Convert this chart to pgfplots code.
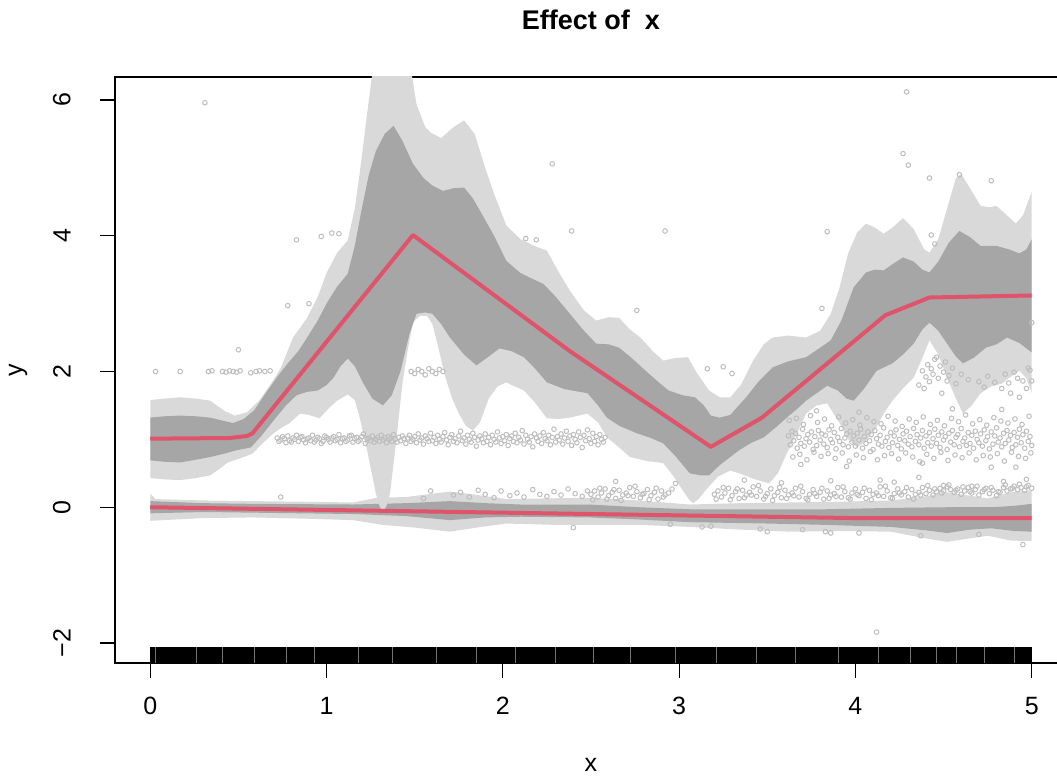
\documentclass[border=0pt]{standalone}
\usepackage{fontspec}
\setmainfont{Liberation Sans}
\usepackage{pgfplots}
\pgfplotsset{compat=1.18}
\definecolor{bandlight}{HTML}{D9D9D9}
\definecolor{banddark}{HTML}{A6A6A6}
\definecolor{fitred}{HTML}{DF536B}
\definecolor{ptgray}{HTML}{BEBEBE}
\newcommand{\lab}{\fontsize{12.5}{15}\selectfont}
\begin{document}
\begin{tikzpicture}
\begin{axis}[
  scale only axis, width=476pt, height=293pt,
  xmin=-0.2, xmax=5.2, ymin=-2.295, ymax=6.339,
  axis line style={line width=0.6pt},
  tick style={line width=0.6pt, black},
  tick align=outside, major tick length=7.5pt,
  xtick={0,1,2,3,4,5}, xticklabels={0,1,2,3,4,5},
  ytick={-2,0,2,4,6}, yticklabels={−2,0,2,4,6},
  xtick pos=bottom, ytick pos=left,
  tick label style={font=\lab},
  xticklabel style={anchor=north, inner sep=0pt, yshift=-9.5pt},
  yticklabel style={rotate=90, anchor=south, inner sep=0pt, yshift=14.5pt},
  title={Effect of~~x},
  title style={font=\bfseries\fontsize{13.5}{16}\selectfont, at={(0.5,1)}, anchor=center, yshift=22.5pt},
  xlabel={x}, xlabel style={font=\lab, at={(0.5,0)}, anchor=center, yshift=-51pt},
  ylabel={y}, ylabel style={font=\lab, at={(0,0.5)}, anchor=center, yshift=48.5pt},
]
\coordinate (SW) at (rel axis cs:0,0);
\coordinate (NW) at (rel axis cs:0,1);

% rug
\addplot[fill=black, draw=none] coordinates {(0,-2.295)(0,-2.06)(5,-2.06)(5,-2.295)};
\addplot[white!45!black, line width=0.25pt, unbounded coords=jump] coordinates {
(0.03,-2.295)(0.03,-2.06)(0.03,nan)(0.26,-2.295)(0.26,-2.06)(0.26,nan)
(0.41,-2.295)(0.41,-2.06)(0.41,nan)(0.59,-2.295)(0.59,-2.06)(0.59,nan)
(0.77,-2.295)(0.77,-2.06)(0.77,nan)(0.93,-2.295)(0.93,-2.06)(0.93,nan)
(1.18,-2.295)(1.18,-2.06)(1.18,nan)(1.37,-2.295)(1.37,-2.06)(1.37,nan)
(1.62,-2.295)(1.62,-2.06)(1.62,nan)(1.85,-2.295)(1.85,-2.06)(1.85,nan)
(2.07,-2.295)(2.07,-2.06)(2.07,nan)(2.30,-2.295)(2.30,-2.06)(2.30,nan)
(2.51,-2.295)(2.51,-2.06)(2.51,nan)(2.72,-2.295)(2.72,-2.06)(2.72,nan)
(2.98,-2.295)(2.98,-2.06)(2.98,nan)(3.21,-2.295)(3.21,-2.06)(3.21,nan)
(3.44,-2.295)(3.44,-2.06)(3.44,nan)(3.66,-2.295)(3.66,-2.06)(3.66,nan)
(3.90,-2.295)(3.90,-2.06)(3.90,nan)(4.13,-2.295)(4.13,-2.06)(4.13,nan)
(4.31,-2.295)(4.31,-2.06)(4.31,nan)(4.46,-2.295)(4.46,-2.06)(4.46,nan)
(4.57,-2.295)(4.57,-2.06)(4.57,nan)(4.73,-2.295)(4.73,-2.06)(4.73,nan)
(4.90,-2.295)(4.90,-2.06)(4.90,nan)};

% data points
\addplot[only marks, mark=o, mark size=1.15pt, ptgray, mark options={line width=0.5pt}] coordinates {
(0.72,1.02)(0.73,0.97)(0.74,0.99)(0.75,1.04)(0.76,1.01)(0.77,0.95)(0.78,1.05)(0.79,0.98)(0.80,0.96)(0.81,1.02)
(0.82,1.00)(0.83,1.06)(0.84,0.97)(0.85,1.03)(0.86,1.04)(0.87,0.99)(0.88,0.95)(0.89,1.01)(0.90,1.02)(0.91,0.98)
(0.92,1.06)(0.93,0.96)(0.94,0.99)(0.95,1.03)(0.96,1.01)(0.97,0.94)(0.98,0.97)(0.99,1.05)(1.00,1.03)(1.01,1.00)
(1.02,0.96)(1.03,1.02)(1.04,1.04)(1.05,0.98)(1.06,1.00)(1.07,1.07)(1.08,0.95)(1.09,1.01)(1.10,1.02)(1.11,0.97)
(1.12,0.99)(1.13,1.05)(1.14,1.06)(1.15,0.96)(1.16,1.01)(1.17,1.03)(1.18,0.97)(1.19,0.99)(1.20,1.04)(1.21,1.08)
(1.22,0.94)(1.23,1.01)(1.24,1.02)(1.25,0.98)(1.26,1.05)(1.27,0.96)(1.28,1.00)(1.29,1.03)(1.30,0.97)(1.31,1.06)
(1.32,0.99)(1.33,1.02)(1.34,0.95)(1.35,1.04)(1.36,1.01)(1.37,0.97)(1.38,1.07)(1.39,1.00)(1.40,0.96)(1.41,1.03)
(1.42,0.98)(1.43,1.05)(1.44,1.01)(1.45,0.94)(1.46,1.02)(1.47,1.06)(1.48,0.97)(1.49,1.00)(1.50,1.04)(1.51,0.95)
(1.52,1.08)(1.53,0.99)(1.54,1.02)(1.55,0.93)(1.56,1.05)(1.57,1.01)(1.58,0.97)(1.59,1.09)(1.60,0.98)(1.61,1.03)
(1.62,0.94)(1.63,1.06)(1.64,1.00)(1.65,0.96)(1.66,1.04)(1.67,1.10)(1.68,0.99)(1.69,0.92)(1.70,1.03)(1.71,1.07)
(1.72,0.97)(1.73,1.01)(1.74,0.95)(1.75,1.05)(1.76,1.12)(1.77,0.98)(1.78,1.02)(1.79,0.93)(1.80,1.06)(1.81,1.00)
(1.82,0.96)(1.83,1.09)(1.84,1.03)(1.85,0.90)(1.86,0.99)(1.87,1.05)(1.88,1.01)(1.89,0.95)(1.90,1.08)(1.91,0.97)
(1.92,1.03)(1.93,0.92)(1.94,1.06)(1.95,1.00)(1.96,0.96)(1.97,1.11)(1.98,1.02)(1.99,0.94)(2.00,1.04)(2.01,0.98)
(2.02,1.07)(2.03,0.91)(2.04,1.01)(2.05,1.05)(2.06,0.97)(2.07,1.09)(2.08,0.95)(2.09,1.03)(2.10,0.99)(2.11,1.13)
(2.12,0.93)(2.13,1.06)(2.14,1.00)(2.15,0.96)(2.16,1.04)(2.17,0.89)(2.18,1.08)(2.19,1.02)(2.20,0.97)(2.21,1.05)
(2.22,0.94)(2.23,1.10)(2.24,1.01)(2.25,0.98)(2.26,1.06)(2.27,0.92)(2.28,1.03)(2.29,1.15)(2.30,0.96)(2.31,1.04)
(2.32,0.99)(2.33,1.08)(2.34,0.93)(2.35,1.02)(2.36,1.12)(2.37,0.97)(2.38,1.05)(2.39,0.91)(2.40,1.07)(2.41,1.00)
(2.42,0.95)(2.43,1.11)(2.44,1.03)(2.45,0.88)(2.46,1.06)(2.47,0.98)(2.48,1.14)(2.49,1.01)(2.50,0.94)(2.51,1.09)
(2.52,0.97)(2.53,1.04)(2.54,0.92)(2.55,1.07)(2.56,1.00)(2.57,0.96)(2.58,1.03)
(3.62,1.05)(3.63,0.92)(3.64,1.12)(3.65,0.98)(3.66,1.09)(3.67,0.87)(3.68,1.03)(3.69,0.94)(3.70,1.15)(3.71,0.90)
(3.72,1.01)(3.73,1.07)(3.74,0.96)(3.75,1.11)(3.76,0.85)(3.77,1.04)(3.78,0.91)(3.79,1.13)(3.80,0.99)(3.81,1.08)
(3.82,0.93)(3.83,1.06)(3.84,0.88)(3.85,1.14)(3.86,1.00)(3.87,0.95)(3.88,1.10)(3.89,0.86)(3.90,1.03)(3.91,0.97)
(3.92,1.16)(3.93,0.92)(3.94,1.02)(3.95,1.08)(3.96,0.89)(3.97,1.12)(3.98,0.96)(3.99,1.05)(4.00,0.90)(4.01,1.09)
(4.02,0.99)(4.03,1.15)(4.04,0.87)(4.05,1.04)(4.06,0.94)(4.07,1.11)(4.08,0.98)(4.09,1.07)(4.10,0.85)(4.11,1.13)
(4.12,1.01)(4.13,0.93)(4.14,1.06)(4.15,0.90)(4.16,1.17)(4.17,0.97)(4.18,1.03)(4.19,0.88)(4.20,1.10)(4.21,0.95)
(4.22,1.05)(4.23,1.14)(4.24,0.91)(4.25,1.00)(4.26,0.86)(4.27,1.08)(4.28,0.98)(4.29,1.12)(4.30,0.93)(4.31,1.04)
(4.32,0.89)(4.33,1.16)(4.34,0.97)(4.35,1.07)(4.36,0.92)(4.37,1.02)(4.38,1.13)(4.39,0.87)(4.40,1.05)(4.41,0.95)
(4.42,1.10)(4.43,0.90)(4.44,1.01)(4.45,1.15)(4.46,0.94)(4.47,1.06)(4.48,0.88)(4.49,1.11)(4.50,0.99)(4.51,1.04)
(4.52,0.85)(4.53,1.09)(4.54,0.96)(4.55,1.13)(4.56,0.92)(4.57,1.03)(4.58,1.07)(4.59,0.89)(4.60,1.16)(4.61,0.97)
(4.62,1.02)(4.63,0.91)(4.64,1.10)(4.65,0.94)(4.66,1.06)(4.67,0.87)(4.68,1.12)(4.69,1.00)(4.70,0.95)(4.71,1.08)
(4.72,0.90)(4.73,1.14)(4.74,0.98)(4.75,1.04)(4.76,0.86)(4.77,1.11)(4.78,0.93)(4.79,1.05)(4.80,1.17)(4.81,0.96)
(4.82,1.02)(4.83,0.89)(4.84,1.09)(4.85,0.94)(4.86,1.13)(4.87,0.99)(4.88,1.06)(4.89,0.88)(4.90,1.10)(4.91,0.92)
(4.92,1.03)(4.93,1.15)(4.94,0.95)(4.95,1.07)(4.96,0.87)(4.97,1.12)(4.98,0.97)(4.99,1.04)(5.00,0.91)
(3.625,1.28)(3.645,0.74)(3.665,1.31)(3.685,0.78)(3.705,1.22)(3.725,0.70)(3.745,1.35)(3.765,0.81)(3.785,1.25)
(3.805,0.75)(3.825,1.30)(3.845,0.79)(3.865,1.20)(3.885,0.72)(3.905,1.33)(3.925,0.80)(3.945,1.24)(3.965,0.68)
(3.985,1.29)(4.005,0.77)(4.025,1.21)(4.045,0.73)(4.065,1.32)(4.085,0.82)(4.105,1.26)(4.125,0.70)(4.145,1.23)
(4.165,0.76)(4.185,1.34)(4.205,0.79)(4.225,1.27)(4.245,0.71)(4.265,1.19)(4.285,0.80)(4.305,1.30)(4.325,0.74)
(4.345,1.25)(4.365,0.67)(4.385,1.33)(4.405,0.78)(4.425,1.22)(4.445,0.72)(4.465,1.28)(4.485,0.81)(4.505,1.20)
(4.525,0.69)(4.545,1.31)(4.565,0.77)(4.585,1.26)(4.605,0.73)(4.625,1.36)(4.645,0.80)(4.665,1.23)(4.685,0.70)
(4.705,1.29)(4.725,0.76)(4.745,1.21)(4.765,0.74)(4.785,1.32)(4.805,0.79)(4.825,1.27)(4.845,0.68)(4.865,1.24)
(4.885,0.81)(4.905,1.30)(4.925,0.75)(4.945,1.22)(4.965,0.72)(4.985,1.34)(4.995,0.80)
(3.69,0.63)(3.78,1.42)(4.38,0.65)(4.77,0.59)(4.91,0.59)(4.55,1.45)(4.02,1.40)(4.83,1.44)(3.95,0.60)
(1.72,0.18)(1.76,0.22)(1.81,0.15)(1.86,0.25)(1.90,0.19)(1.95,0.14)(1.99,0.24)(2.04,0.17)(2.08,0.21)(2.12,0.15)
(2.17,0.26)(2.21,0.19)(2.25,0.16)(2.29,0.23)(2.33,0.18)(2.37,0.27)(2.41,0.20)(2.45,0.16)(2.48,0.24)
(2.50,0.19)(2.52,0.24)(2.54,0.15)(2.56,0.21)(2.58,0.27)(2.60,0.17)(2.62,0.22)(2.64,0.13)(2.66,0.25)(2.68,0.18)
(2.70,0.21)(2.72,0.29)(2.74,0.16)(2.76,0.23)(2.78,0.14)(2.80,0.20)(2.82,0.26)(2.84,0.17)(2.86,0.22)(2.88,0.12)
(2.90,0.24)(2.92,0.18)(2.94,0.21)(2.96,0.27)(3.20,0.19)(3.22,0.24)(3.24,0.15)(3.26,0.21)(3.28,0.28)(3.30,0.17)
(3.32,0.23)(3.34,0.13)(3.36,0.25)(3.38,0.18)(3.40,0.22)(3.42,0.30)(3.44,0.16)(3.46,0.24)(3.48,0.12)(3.50,0.20)
(3.52,0.27)(3.54,0.17)(3.56,0.22)(3.58,0.14)(3.60,0.25)(3.62,0.18)(3.64,0.21)(3.66,0.28)(3.68,0.15)(3.70,0.23)
(3.72,0.13)(3.74,0.19)(3.76,0.26)(3.78,0.16)(3.80,0.22)(3.82,0.12)(3.84,0.24)(3.86,0.18)(3.88,0.20)(3.90,0.29)
(3.92,0.15)(3.94,0.23)(3.96,0.14)(3.98,0.21)(4.00,0.27)(4.02,0.17)(4.04,0.22)(4.06,0.13)(4.08,0.25)(4.10,0.19)
(4.12,0.21)(4.14,0.30)(4.16,0.16)(4.18,0.24)(4.20,0.14)(4.22,0.20)(4.24,0.27)(4.26,0.18)(4.28,0.23)(4.30,0.15)
(4.32,0.26)(4.34,0.19)(4.36,0.22)(4.38,0.29)(4.40,0.20)(4.42,0.25)(4.44,0.18)(4.46,0.23)(4.48,0.28)(4.50,0.24)
(4.52,0.30)(4.54,0.26)(4.56,0.22)(4.58,0.27)(4.60,0.19)(4.62,0.24)(4.64,0.29)(4.66,0.21)(4.68,0.26)(4.70,0.18)
(4.72,0.23)(4.74,0.28)(4.76,0.20)(4.78,0.25)(4.80,0.17)(4.82,0.22)(4.84,0.29)(4.86,0.24)(4.88,0.27)(4.90,0.31)
(4.92,0.26)(4.94,0.29)(4.96,0.25)(4.98,0.32)(5.00,0.28)
(2.51,0.11)(2.55,0.28)(2.59,0.12)(2.63,0.26)(2.67,0.10)(2.71,0.17)(2.75,0.31)(2.79,0.19)(2.83,0.11)(2.87,0.28)
(2.91,0.15)(3.21,0.12)(3.25,0.29)(3.29,0.11)(3.33,0.27)(3.37,0.14)(3.41,0.18)(3.45,0.32)(3.49,0.16)(3.53,0.10)
(3.57,0.29)(3.61,0.13)(3.65,0.17)(3.69,0.31)(3.73,0.11)(3.77,0.20)(3.81,0.28)(3.85,0.13)(3.89,0.16)(3.93,0.30)
(3.97,0.12)(4.01,0.19)(4.05,0.28)(4.09,0.11)(4.13,0.17)(4.17,0.31)(4.21,0.13)(4.25,0.21)(4.29,0.29)(4.33,0.12)
(4.37,0.18)(4.41,0.32)(4.45,0.27)(4.49,0.21)(4.53,0.33)(4.57,0.25)(4.61,0.30)(4.65,0.23)(4.69,0.31)(4.73,0.26)
(4.77,0.29)(4.81,0.23)(4.85,0.33)(4.89,0.28)(4.93,0.34)(4.97,0.30)
(3.58,0.36)(4.14,0.40)(4.22,0.37)(4.36,0.44)(4.50,0.32)(4.66,0.31)(4.84,0.38)(4.97,0.41)(2.64,0.38)(3.37,0.40)
(3.86,0.39)(0.74,0.15)(1.55,0.13)(1.59,0.24)(2.98,0.35)
(2.95,-0.25)(3.13,-0.29)(3.18,-0.28)(3.46,-0.32)(3.50,-0.36)(3.70,-0.33)(3.83,-0.36)(3.86,-0.38)(4.02,-0.38)
(4.37,-0.42)(4.70,-0.40)(4.95,-0.55)(2.40,-0.30)
(4.36,1.80)(4.38,2.01)(4.39,1.75)(4.40,1.92)(4.41,2.10)(4.42,1.85)(4.43,2.04)(4.44,1.96)(4.45,2.18)(4.46,2.21)
(4.47,1.90)(4.48,2.08)(4.49,1.68)(4.50,1.99)(4.51,2.14)(4.52,1.86)(4.53,1.94)(4.55,2.05)(4.57,1.82)(4.60,1.96)
(4.64,1.88)(4.70,1.85)(4.73,1.77)(4.75,1.93)(4.79,1.84)(4.83,1.75)(4.85,1.96)(4.87,1.83)(4.90,1.99)(4.92,1.90)
(4.93,1.62)(4.95,1.86)(4.97,1.75)(4.99,2.02)(5.00,1.86)(5.00,2.72)(4.98,2.05)(4.88,1.68)
(0.03,2.00)(0.17,2.00)(0.33,2.00)(0.35,2.01)(0.41,2.00)(0.43,1.99)(0.45,2.01)(0.47,2.00)(0.49,1.99)(0.51,2.01)
(0.57,1.98)(0.60,2.00)(0.62,2.01)(0.65,2.00)(0.68,2.01)(1.48,2.00)(1.50,1.97)(1.52,2.03)(1.54,2.00)(1.56,1.95)
(1.58,2.04)(1.60,2.00)(1.62,1.97)(1.64,2.03)(1.66,2.00)
(0.31,5.96)(0.83,3.94)(0.97,3.99)(1.03,4.04)(1.07,4.03)(0.78,2.97)(0.90,3.00)(0.50,2.32)(2.28,5.06)(2.13,3.96)
(2.19,3.94)(2.39,4.07)(2.92,4.07)(2.76,2.90)(3.16,2.04)(3.25,2.07)(3.30,1.97)(4.29,6.12)(4.27,5.21)(4.30,5.04)
(4.42,4.85)(4.59,4.90)(4.77,4.81)(3.84,4.06)(4.43,4.01)(4.45,3.88)(3.81,2.93)(4.12,-1.84)};

% lower curve bands
\addplot[fill=bandlight, draw=none] coordinates {
(0.00,0.20)(0.03,0.12)(0.30,0.10)(0.58,0.09)(0.90,0.08)(1.15,0.07)(1.29,0.14)(1.45,0.15)(1.60,0.20)(1.70,0.23)
(1.80,0.20)(2.02,0.12)(2.25,0.13)(2.49,0.14)(2.77,0.10)(3.06,0.04)(3.35,0.06)(3.63,0.07)(3.90,0.08)(4.20,0.10)
(4.40,0.16)(4.52,0.22)(4.65,0.17)(4.75,0.13)(4.88,0.22)(5.00,0.25)
(5.00,-0.50)(4.88,-0.49)(4.75,-0.42)(4.62,-0.47)(4.52,-0.51)(4.40,-0.46)(4.20,-0.36)(3.90,-0.35)(3.63,-0.36)
(3.35,-0.33)(3.06,-0.29)(2.77,-0.26)(2.30,-0.26)(2.02,-0.24)(1.85,-0.30)(1.70,-0.36)(1.50,-0.30)(1.32,-0.26)
(1.15,-0.19)(0.90,-0.17)(0.58,-0.15)(0.30,-0.16)(0.00,-0.20)};
\addplot[fill=banddark, draw=none] coordinates {
(0.00,0.09)(0.30,0.06)(0.58,0.05)(1.15,0.04)(1.45,0.06)(1.70,0.09)(1.90,0.06)(2.10,0.04)(2.49,0.04)(2.77,0.00)
(3.06,-0.03)(3.50,-0.03)(3.83,-0.03)(4.20,-0.01)(4.52,0.00)(4.77,0.00)(4.90,0.02)(5.00,0.05)
(5.00,-0.36)(4.90,-0.35)(4.77,-0.31)(4.65,-0.33)(4.52,-0.38)(4.40,-0.34)(4.20,-0.29)(3.83,-0.26)(3.50,-0.24)
(3.06,-0.22)(2.77,-0.18)(2.49,-0.15)(2.10,-0.14)(1.90,-0.15)(1.70,-0.19)(1.45,-0.13)(1.15,-0.10)(0.58,-0.08)
(0.30,-0.07)(0.00,-0.09)};

% upper curve bands
\addplot[fill=bandlight, draw=none] coordinates {
(0.00,1.58)(0.08,1.60)(0.17,1.62)(0.26,1.60)(0.34,1.57)(0.42,1.42)(0.48,1.35)(0.55,1.40)(0.62,1.58)(0.68,1.80)
(0.74,2.05)(0.81,2.50)(0.89,2.79)(0.95,3.10)(1.00,3.45)(1.06,3.75)(1.12,3.93)(1.16,4.40)(1.19,4.96)(1.23,5.80)
(1.26,6.40)(1.30,6.90)(1.40,7.00)(1.47,6.60)(1.51,5.94)(1.56,5.60)(1.59,5.52)(1.65,5.44)(1.72,5.60)(1.78,5.70)
(1.84,5.50)(1.90,5.00)(1.95,4.62)(2.02,4.15)(2.10,3.95)(2.18,3.85)(2.25,3.78)(2.32,3.45)(2.38,3.19)(2.46,2.90)
(2.53,2.75)(2.60,2.80)(2.66,2.79)(2.72,2.62)(2.78,2.50)(2.85,2.30)(2.91,2.16)(2.98,2.20)(3.05,2.21)(3.10,1.98)
(3.17,1.72)(3.23,1.62)(3.29,1.62)(3.35,1.80)(3.42,2.16)(3.48,2.40)(3.53,2.50)(3.62,2.53)(3.72,2.50)(3.80,2.60)
(3.86,2.85)(3.91,3.24)(3.96,3.75)(4.01,4.05)(4.06,4.18)(4.11,4.12)(4.16,4.03)(4.21,4.12)(4.27,4.26)(4.33,4.10)
(4.39,3.80)(4.42,3.75)(4.47,3.95)(4.52,4.40)(4.57,4.85)(4.60,4.91)(4.65,4.70)(4.71,4.44)(4.76,4.42)(4.80,4.44)
(4.86,4.30)(4.91,4.18)(4.95,4.30)(5.00,4.65)
(5.00,1.68)(4.97,1.90)(4.93,2.01)(4.88,1.92)(4.83,1.82)(4.77,1.78)(4.71,1.68)(4.66,1.50)(4.61,1.38)(4.57,1.60)
(4.52,1.91)(4.47,2.25)(4.42,2.46)(4.38,2.20)(4.33,1.91)(4.27,1.75)(4.21,1.57)(4.16,1.38)(4.12,1.18)(4.06,0.98)
(4.01,0.88)(3.96,1.00)(3.91,1.24)(3.84,1.53)(3.78,1.50)(3.72,1.38)(3.67,1.10)(3.61,0.79)(3.56,0.50)(3.51,0.35)
(3.42,0.42)(3.34,0.50)(3.29,0.54)(3.22,0.45)(3.15,0.25)(3.11,0.12)(3.08,0.06)(3.06,0.10)(3.02,0.25)(2.97,0.45)
(2.91,0.65)(2.82,0.68)(2.72,0.74)(2.66,0.88)(2.59,1.03)(2.54,1.25)(2.48,1.38)(2.38,1.32)(2.32,1.30)(2.25,1.31)
(2.18,1.55)(2.12,1.72)(2.05,1.80)(2.02,1.84)(1.97,1.78)(1.92,1.60)(1.87,1.25)(1.83,1.13)(1.79,1.20)(1.75,1.38)
(1.71,1.62)(1.67,1.95)(1.63,2.40)(1.60,2.70)(1.57,2.82)(1.53,2.82)(1.49,2.72)(1.46,2.31)(1.43,1.82)(1.40,1.09)
(1.36,0.20)(1.34,0.02)(1.32,-0.07)(1.30,0.02)(1.28,0.20)(1.23,0.84)(1.19,1.30)(1.16,1.58)(1.12,1.66)(1.06,1.57)
(1.01,1.45)(0.96,1.31)(0.90,1.36)(0.85,1.38)(0.79,1.24)(0.75,1.18)(0.70,1.09)(0.64,0.95)(0.58,0.79)(0.51,0.72)
(0.44,0.66)(0.40,0.58)(0.34,0.47)(0.26,0.43)(0.17,0.40)(0.08,0.41)(0.00,0.43)};
\addplot[fill=banddark, draw=none] coordinates {
(0.00,1.32)(0.08,1.34)(0.17,1.35)(0.26,1.34)(0.34,1.32)(0.42,1.27)(0.47,1.24)(0.53,1.30)(0.59,1.43)(0.66,1.70)
(0.72,1.92)(0.78,2.12)(0.84,2.30)(0.89,2.50)(0.95,2.75)(1.00,3.00)(1.06,3.25)(1.12,3.44)(1.16,3.85)(1.20,4.40)
(1.24,4.90)(1.28,5.25)(1.33,5.50)(1.38,5.62)(1.43,5.40)(1.49,5.06)(1.55,4.85)(1.60,4.74)(1.66,4.66)(1.72,4.70)
(1.78,4.71)(1.83,4.55)(1.87,4.37)(1.95,4.00)(2.02,3.63)(2.10,3.45)(2.18,3.35)(2.23,3.29)(2.30,3.10)(2.38,2.85)
(2.46,2.60)(2.53,2.41)(2.60,2.40)(2.66,2.35)(2.73,2.20)(2.81,2.01)(2.88,1.85)(2.94,1.72)(3.02,1.65)(3.09,1.62)
(3.14,1.50)(3.18,1.35)(3.23,1.32)(3.29,1.36)(3.38,1.62)(3.45,1.85)(3.53,2.06)(3.62,2.15)(3.72,2.21)(3.80,2.35)
(3.86,2.46)(3.92,2.75)(3.99,3.24)(4.06,3.46)(4.11,3.50)(4.16,3.49)(4.21,3.58)(4.27,3.68)(4.33,3.62)(4.38,3.50)
(4.42,3.46)(4.47,3.62)(4.53,3.90)(4.59,4.07)(4.65,3.98)(4.71,3.85)(4.80,3.85)(4.87,3.80)(4.93,3.74)(4.97,3.80)
(5.00,3.95)
(5.00,2.28)(4.93,2.42)(4.86,2.50)(4.80,2.40)(4.74,2.35)(4.67,2.20)(4.61,2.12)(4.57,2.22)(4.52,2.41)(4.47,2.60)
(4.42,2.72)(4.38,2.62)(4.33,2.41)(4.27,2.25)(4.21,2.12)(4.12,2.01)(4.05,1.75)(3.99,1.57)(3.95,1.60)(3.90,1.72)
(3.84,1.79)(3.78,1.68)(3.72,1.57)(3.67,1.45)(3.61,1.32)(3.55,1.18)(3.48,1.03)(3.41,0.95)(3.34,0.84)(3.29,0.74)
(3.23,0.62)(3.17,0.47)(3.12,0.47)(3.06,0.50)(2.98,0.75)(2.91,0.94)(2.84,1.02)(2.76,1.09)(2.66,1.20)(2.59,1.32)
(2.54,1.50)(2.48,1.68)(2.35,1.74)(2.25,1.84)(2.18,2.05)(2.12,2.21)(2.05,2.30)(1.98,2.34)(1.92,2.22)(1.85,2.09)
(1.78,2.25)(1.70,2.50)(1.65,2.70)(1.60,2.85)(1.56,2.87)(1.51,2.85)(1.47,2.55)(1.42,2.01)(1.37,1.65)(1.32,1.50)
(1.26,1.60)(1.21,1.82)(1.16,2.08)(1.12,2.19)(1.08,2.08)(1.04,1.91)(1.00,1.80)(0.95,1.72)(0.89,1.70)(0.83,1.65)
(0.77,1.50)(0.70,1.28)(0.63,1.05)(0.57,0.88)(0.49,0.84)(0.42,0.79)(0.34,0.74)(0.26,0.70)(0.17,0.66)(0.08,0.67)
(0.00,0.69)};

% fitted lines
\addplot[fitred, line width=2pt, line join=round] coordinates {
(0,0)(1.0,-0.04)(2.0,-0.08)(2.5,-0.10)(3.0,-0.12)(3.5,-0.14)(4.0,-0.16)(5.0,-0.16)};
\addplot[fitred, line width=2pt, line join=round] coordinates {
(0,1.01)(0.45,1.02)(0.55,1.05)(0.58,1.09)(1.49,4.01)(2.38,2.30)(3.18,0.89)(3.47,1.32)(4.17,2.83)(4.42,3.09)(5.0,3.12)};
\end{axis}
\pgfresetboundingbox
\path[use as bounding box] ([shift={(-57.5pt,-57pt)}]SW) rectangle ([shift={(471pt,38.5pt)}]NW);
\end{tikzpicture}
\end{document}
